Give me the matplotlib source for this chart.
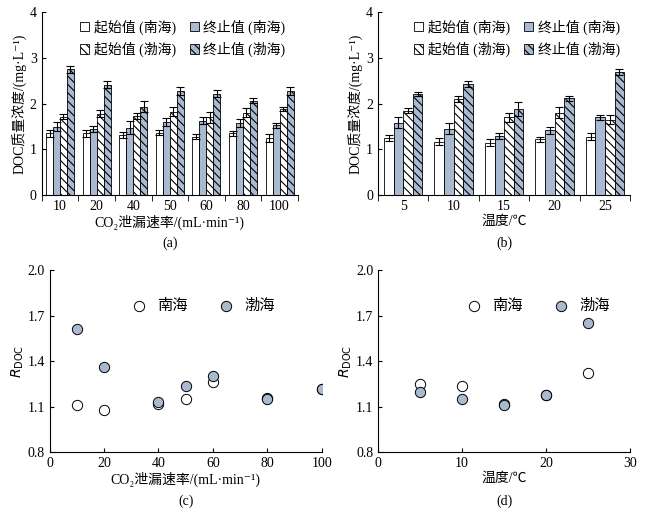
import numpy as np
import matplotlib.pyplot as plt

plt.rcParams['font.family'] = ['Liberation Serif', 'Noto Sans CJK SC', 'DejaVu Sans']
plt.rcParams['font.size'] = 10
plt.rcParams['hatch.linewidth'] = 0.8

rate = ['10', '20', '40', '50', '60', '80', '100']
a_ns0 = [1.35, 1.35, 1.32, 1.37, 1.28, 1.35, 1.25]
a_ns1 = [1.50, 1.45, 1.48, 1.60, 1.63, 1.58, 1.53]
a_bh0 = [1.72, 1.78, 1.73, 1.83, 1.70, 1.80, 1.88]
a_bh1 = [2.75, 2.42, 1.93, 2.28, 2.22, 2.07, 2.28]
a_e = [[0.07, 0.08, 0.06, 0.05, 0.06, 0.05, 0.08],
       [0.10, 0.06, 0.15, 0.08, 0.08, 0.08, 0.06],
       [0.06, 0.08, 0.06, 0.10, 0.12, 0.10, 0.04],
       [0.07, 0.07, 0.12, 0.08, 0.08, 0.06, 0.08]]

temp = ['5', '10', '15', '20', '25']
b_ns0 = [1.25, 1.17, 1.15, 1.22, 1.28]
b_ns1 = [1.58, 1.45, 1.30, 1.42, 1.70]
b_bh0 = [1.85, 2.10, 1.70, 1.80, 1.65]
b_bh1 = [2.22, 2.43, 1.88, 2.12, 2.70]
b_e = [[0.06, 0.08, 0.08, 0.06, 0.08],
       [0.12, 0.12, 0.06, 0.08, 0.06],
       [0.06, 0.06, 0.10, 0.12, 0.10],
       [0.04, 0.06, 0.15, 0.06, 0.06]]

c_x = [10, 20, 40, 50, 60, 80, 100]
c_ns = [1.11, 1.08, 1.12, 1.15, 1.26, 1.16, 1.22]
c_bh = [1.61, 1.36, 1.13, 1.24, 1.30, 1.15, 1.22]

d_x = [5, 10, 15, 20, 25]
d_ns = [1.25, 1.24, 1.12, 1.18, 1.32]
d_bh = [1.20, 1.15, 1.11, 1.18, 1.65]

blue = '#a9b9d0'
rate_label = 'CO₂泄漏速率/(mL·min⁻¹)'
fig = plt.figure(figsize=(6.62, 5.15), dpi=100)

def bars(ax, cats, series, errs, xlabel):
    x = np.arange(len(cats))
    w = 0.19
    styles = [('white', None, '起始值 (南海)'), (blue, None, '终止值 (南海)'),
              ('white', '\\\\\\\\', '起始值 (渤海)'), (blue, '\\\\\\\\', '终止值 (渤海)')]
    hs = []
    for i, (vals, (fc, h, lab)) in enumerate(zip(series, styles)):
        b = ax.bar(x + (i - 1.5) * w, vals, w, color=fc, hatch=h, edgecolor='black',
                   linewidth=0.6, label=lab, yerr=errs[i], capsize=3,
                   error_kw=dict(elinewidth=0.8, capthick=0.8))
        hs.append(b)
    ax.set_xlim(-0.5, len(cats) - 0.5)
    ax.set_ylim(0, 4)
    ax.set_yticks([0, 1, 2, 3, 4])
    ax.set_xticks(x)
    ax.set_xticklabels(cats)
    ax.set_xticks(np.arange(len(cats) + 1) - 0.5, minor=True)
    ax.tick_params(axis='x', which='major', length=0)
    ax.tick_params(axis='x', which='minor', length=4, direction='out')
    ax.tick_params(axis='y', direction='in', length=3)
    for s in ['top', 'right']:
        ax.spines[s].set_visible(False)
    ax.set_ylabel('DOC质量浓度/(mg·L⁻¹)', labelpad=2)
    ax.set_xlabel(xlabel, labelpad=1)
    order = [0, 2, 1, 3]
    ax.legend([hs[i] for i in order], [styles[i][2] for i in order],
              ncol=2, frameon=False, loc='upper center', fontsize=10,
              handlelength=0.7, handleheight=0.7, handletextpad=0.3,
              columnspacing=1.0, borderaxespad=0.1, bbox_to_anchor=(0.55, 1.0))

ax1 = fig.add_axes([0.063, 0.621, 0.387, 0.355])
bars(ax1, rate, [a_ns0, a_ns1, a_bh0, a_bh1], a_e, rate_label)
ax2 = fig.add_axes([0.571, 0.621, 0.381, 0.355])
bars(ax2, temp, [b_ns0, b_ns1, b_bh0, b_bh1], b_e, '温度/℃')

def scat(ax, x, ns, bh, xlim, xticks, xlabel, anchor):
    ax.scatter(x, ns, s=55, facecolor='white', edgecolor='black', linewidth=0.7, label='南海', zorder=3)
    ax.scatter(x, bh, s=55, facecolor=blue, edgecolor='black', linewidth=0.7, label='渤海', zorder=3)
    ax.set_xlim(*xlim)
    ax.set_xticks(xticks)
    ax.set_ylim(0.8, 2.0)
    ax.set_yticks([0.8, 1.1, 1.4, 1.7, 2.0])
    ax.tick_params(direction='in', length=3)
    for s in ['top', 'right']:
        ax.spines[s].set_visible(False)
    ax.set_ylabel('$R_{\\mathrm{DOC}}$', labelpad=1)
    ax.set_xlabel(xlabel, labelpad=1)
    ax.legend(ncol=2, frameon=False, loc='upper center', bbox_to_anchor=anchor,
              handletextpad=0.2, columnspacing=1.5, fontsize=11)

ax3 = fig.add_axes([0.075, 0.122, 0.411, 0.353])
scat(ax3, c_x, c_ns, c_bh, (0, 100), [0, 20, 40, 60, 80, 100], rate_label, (0.55, 0.92))
ax4 = fig.add_axes([0.571, 0.122, 0.381, 0.353])
scat(ax4, d_x, d_ns, d_bh, (0, 30), [0, 10, 20, 30], '温度/℃', (0.62, 0.92))

for ax, lab, y in [(ax1, '(a)', 0.52), (ax2, '(b)', 0.52), (ax3, '(c)', 0.02), (ax4, '(d)', 0.02)]:
    pos = ax.get_position()
    fig.text((pos.x0 + pos.x1) / 2, y, lab, ha='center', fontsize=10)

fig.savefig('out.png', dpi=100)
